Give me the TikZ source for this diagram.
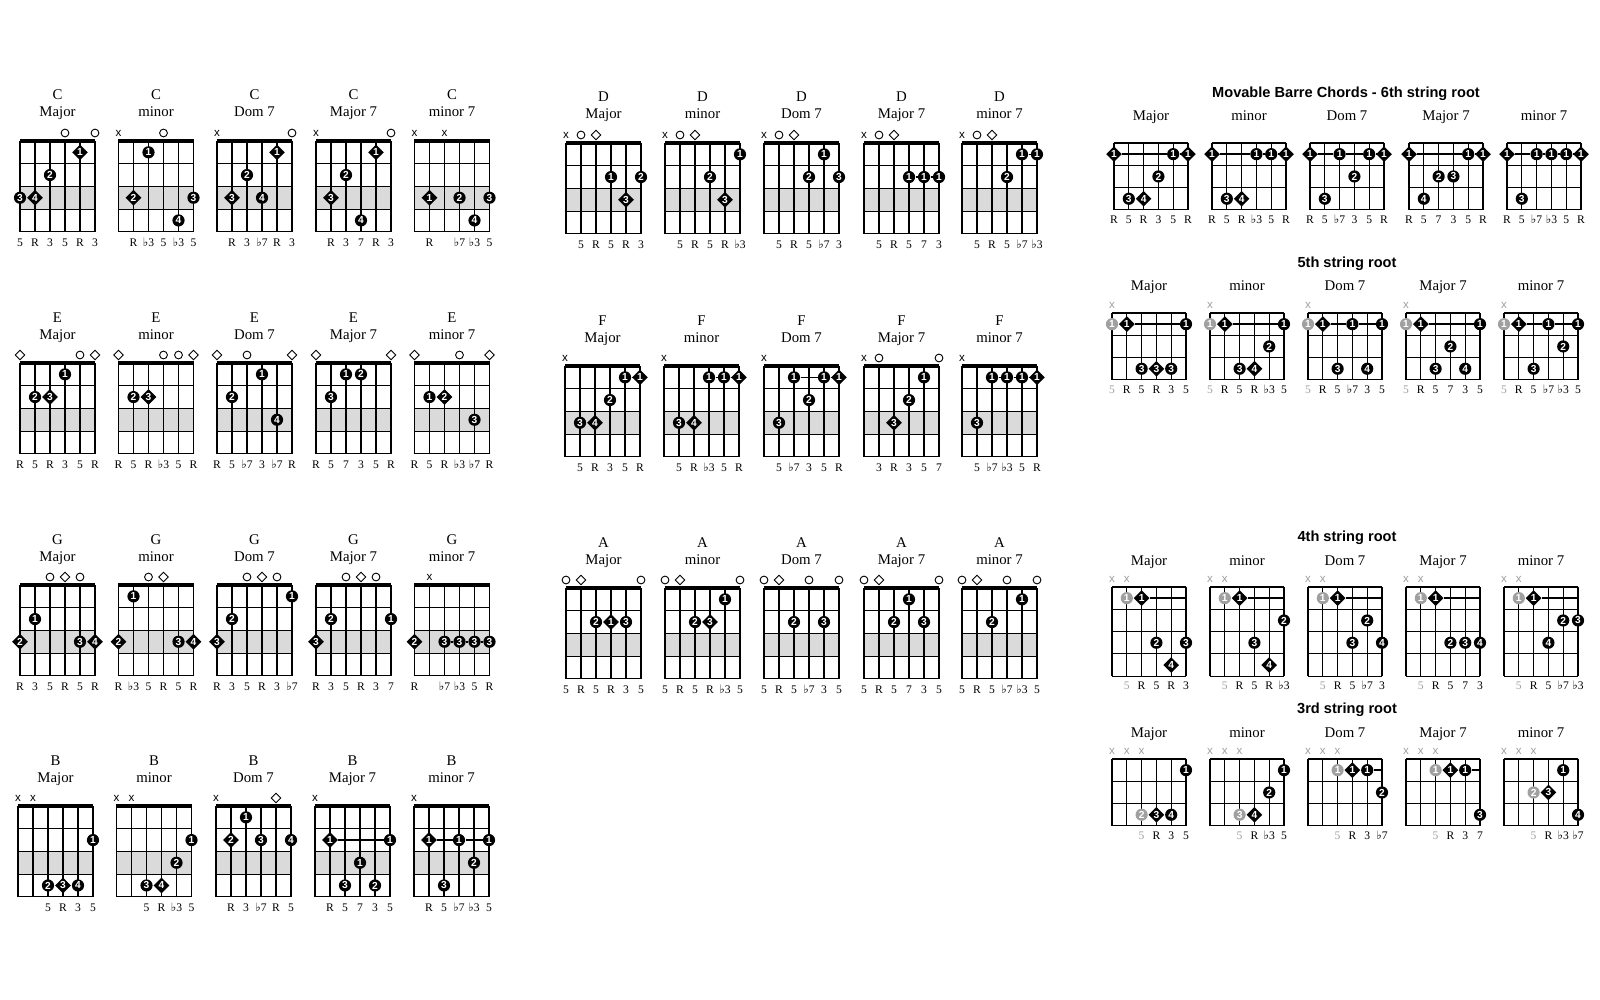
\documentclass[tikz,border=0pt]{standalone}
\usepackage{fontspec}
\setmainfont{Liberation Serif}
\newfontfamily\hsans{Liberation Sans}
\newfontfamily\symf{DejaVu Sans}
\usetikzlibrary{shapes.geometric}
\definecolor{shadegray}{RGB}{218,218,218}
\definecolor{markgray}{RGB}{160,160,160}
\tikzset{
  gridline/.style={line width=0.55pt, black},
  nutline/.style={line width=2pt, black},
  shadebox/.style={fill=shadegray},
  numfont/.style={font=\hsans\bfseries\fontsize{5.1}{5}\selectfont},
  fdotc/.style={circle, fill=black, minimum size=6.1pt, inner sep=0pt, text=white, numfont},
  fdotd/.style={diamond, fill=black, minimum size=8pt, inner sep=0pt, text=white, numfont},
  fdotg/.style={fdotc, fill=markgray},
  openc/.style={circle, draw, line width=0.45pt, minimum size=3.9pt, inner sep=0pt},
  opend/.style={diamond, draw, line width=0.45pt, minimum size=5pt, inner sep=0pt},
  mutex/.style={font=\hsans\fontsize{5.8}{6}\selectfont, inner sep=0pt},
  mutexg/.style={mutex, text=markgray},
  ttl/.style={font=\fontsize{7.4}{8}\selectfont, inner sep=0pt, anchor=base},
  lab/.style={font=\fontsize{5.8}{6}\selectfont, inner sep=0pt, anchor=base},
  labgray/.style={lab, text=markgray},
  barre/.style={line width=0.75pt},
  heading/.style={font=\hsans\bfseries\fontsize{7.3}{8}\selectfont, inner sep=0pt},
}
\newcommand\chfl{{\symf ♭}}
\newcommand\leftgrid{\def\sw{15}\def\rh{22.7}\def\nr{4}%
  \fill[shadebox] (0,{2*\rh}) rectangle ({5*\sw},{3*\rh});%
  \foreach \i in {0,...,5} {\draw[gridline] ({\i*\sw},0) -- ({\i*\sw},{\nr*\rh});}%
  \foreach \j in {1,...,4} {\draw[gridline] (0,{\j*\rh}) -- ({5*\sw},{\j*\rh});}%
  \draw[nutline] (-0.3,0) -- ({5*\sw+0.3},0);%
  \def\lby{\nr*\rh+14.5}}
\newcommand\rightgrid[1]{\def\sw{14.8}\def\rh{22.3}\def\nr{#1}%
  \foreach \i in {0,...,5} {\draw[gridline] ({\i*\sw},0) -- ({\i*\sw},{\nr*\rh});}%
  \foreach \j in {0,...,#1} {\draw[gridline] (0,{\j*\rh}) -- ({5*\sw},{\j*\rh});}%
  \def\lby{\nr*\rh+13.5}}
\newcommand\chtl[2]{\node[ttl] (\cid t1) at ({2.5*\sw},-41) {#1};\node[ttl] (\cid t2) at ({2.5*\sw},-24) {#2};}
\newcommand\chrtl[1]{\node[ttl] (\cid t2) at ({2.5*\sw},-22) {#1};}
\newcommand\chd[4]{\node[fdot#4] (\cid s#1r#2) at ({(6-#1)*\sw},{(#2-0.5)*\rh}) {#3};}
\newcommand\cho[1]{\node[openc] (\cid m#1) at ({(6-#1)*\sw},-8) {};}
\newcommand\chq[1]{\node[opend] (\cid m#1) at ({(6-#1)*\sw},-8) {};}
\newcommand\chx[1]{\node[mutex] (\cid m#1) at ({(6-#1)*\sw},-8) {x};}
\newcommand\chxg[1]{\node[mutexg] (\cid m#1) at ({(6-#1)*\sw},-8) {x};}
\newcommand\chlabs[1]{\foreach \s/\t in {#1} {\node[lab] (\cid l\s) at ({(6-\s)*\sw},{\lby}) {\t};}}
\newcommand\chglab[2]{\node[labgray] (\cid l#1) at ({(6-#1)*\sw},{\lby}) {#2};}
\newcommand\chend[1]{\coordinate (\cid e#1) at ({5*\sw},{(#1-0.5)*\rh});}
\begin{document}
\begin{tikzpicture}[x=0.5pt,y=-0.5pt]
\fill[white] (0,0) rectangle (1600,1000);
\useasboundingbox (0,0) rectangle (1600,1000);
% ===== C =====
\begin{scope}[shift={(20,141)}]\def\cid{c1}\leftgrid\chtl{C}{Major}
\cho{3}\cho{1}
\chd{2}{1}{1}{d}\chd{4}{2}{2}{c}\chd{6}{3}{3}{c}\chd{5}{3}{4}{d}
\chlabs{6/5,5/R,4/3,3/5,2/R,1/3}
\end{scope}
\begin{scope}[shift={(118.5,141)}]\def\cid{c2}\leftgrid\chtl{C}{minor}
\chx{6}\cho{3}
\chd{4}{1}{1}{c}\chd{5}{3}{2}{d}\chd{1}{3}{3}{c}\chd{2}{4}{4}{c}
\chlabs{5/R,4/\chfl3,3/5,2/\chfl3,1/5}
\end{scope}
\begin{scope}[shift={(217,141)}]\def\cid{c3}\leftgrid\chtl{C}{Dom 7}
\chx{6}\cho{1}
\chd{2}{1}{1}{d}\chd{4}{2}{2}{c}\chd{5}{3}{3}{d}\chd{3}{3}{4}{c}
\chlabs{5/R,4/3,3/\chfl7,2/R,1/3}
\end{scope}
\begin{scope}[shift={(316,141)}]\def\cid{c4}\leftgrid\chtl{C}{Major 7}
\chx{6}\cho{1}
\chd{2}{1}{1}{d}\chd{4}{2}{2}{c}\chd{5}{3}{3}{d}\chd{3}{4}{4}{c}
\chlabs{5/R,4/3,3/7,2/R,1/3}
\end{scope}
\begin{scope}[shift={(414.5,141)}]\def\cid{c5}\leftgrid\chtl{C}{minor 7}
\chx{6}\chx{4}
\chd{5}{3}{1}{d}\chd{3}{3}{2}{c}\chd{1}{3}{3}{c}\chd{2}{4}{4}{c}
\chlabs{5/R,3/\chfl7,2/\chfl3,1/5}
\end{scope}
% ===== E =====
\begin{scope}[shift={(20,363)}]\def\cid{e1}\leftgrid\chtl{E}{Major}
\chq{6}\cho{2}\chq{1}
\chd{3}{1}{1}{c}\chd{5}{2}{2}{c}\chd{4}{2}{3}{d}
\chlabs{6/R,5/5,4/R,3/3,2/5,1/R}
\end{scope}
\begin{scope}[shift={(118.5,363)}]\def\cid{e2}\leftgrid\chtl{E}{minor}
\chq{6}\cho{3}\cho{2}\chq{1}
\chd{5}{2}{2}{c}\chd{4}{2}{3}{d}
\chlabs{6/R,5/5,4/R,3/\chfl3,2/5,1/R}
\end{scope}
\begin{scope}[shift={(217,363)}]\def\cid{e3}\leftgrid\chtl{E}{Dom 7}
\chq{6}\cho{4}\chq{1}
\chd{3}{1}{1}{c}\chd{5}{2}{2}{c}\chd{2}{3}{4}{c}
\chlabs{6/R,5/5,4/\chfl7,3/3,2/\chfl7,1/R}
\end{scope}
\begin{scope}[shift={(316,363)}]\def\cid{e4}\leftgrid\chtl{E}{Major 7}
\chq{6}\chq{1}
\chd{4}{1}{1}{c}\chd{3}{1}{2}{c}\chd{5}{2}{3}{c}
\chlabs{6/R,5/5,4/7,3/3,2/5,1/R}
\end{scope}
\begin{scope}[shift={(414.5,363)}]\def\cid{e5}\leftgrid\chtl{E}{minor 7}
\chq{6}\cho{3}\chq{1}
\chd{5}{2}{1}{c}\chd{4}{2}{2}{d}\chd{2}{3}{3}{c}
\chlabs{6/R,5/5,4/R,3/\chfl3,2/\chfl7,1/R}
\end{scope}
% ===== G =====
\begin{scope}[shift={(20,585)}]\def\cid{g1}\leftgrid\chtl{G}{Major}
\cho{4}\chq{3}\cho{2}
\chd{5}{2}{1}{c}\chd{6}{3}{2}{d}\chd{2}{3}{3}{c}\chd{1}{3}{4}{d}
\chlabs{6/R,5/3,4/5,3/R,2/5,1/R}
\end{scope}
\begin{scope}[shift={(118.5,585)}]\def\cid{g2}\leftgrid\chtl{G}{minor}
\cho{4}\chq{3}
\chd{5}{1}{1}{c}\chd{6}{3}{2}{d}\chd{2}{3}{3}{c}\chd{1}{3}{4}{d}
\chlabs{6/R,5/\chfl3,4/5,3/R,2/5,1/R}
\end{scope}
\begin{scope}[shift={(217,585)}]\def\cid{g3}\leftgrid\chtl{G}{Dom 7}
\cho{4}\chq{3}\cho{2}
\chd{1}{1}{1}{c}\chd{5}{2}{2}{c}\chd{6}{3}{3}{d}
\chlabs{6/R,5/3,4/5,3/R,2/3,1/\chfl7}
\end{scope}
\begin{scope}[shift={(316,585)}]\def\cid{g4}\leftgrid\chtl{G}{Major 7}
\cho{4}\chq{3}\cho{2}
\chd{1}{2}{1}{c}\chd{5}{2}{2}{c}\chd{6}{3}{3}{d}
\chlabs{6/R,5/3,4/5,3/R,2/3,1/7}
\end{scope}
\begin{scope}[shift={(414.5,585)}]\def\cid{g5}\leftgrid\chtl{G}{minor 7}
\chx{5}
\chd{6}{3}{2}{d}\chd{4}{3}{3}{c}\chd{3}{3}{3}{c}\chd{2}{3}{3}{c}\chd{1}{3}{3}{c}
\draw[barre] (g5s4r3) -- (g5s3r3) -- (g5s2r3) -- (g5s1r3);
\chlabs{6/R,4/\chfl7,3/\chfl3,2/5,1/R}
\end{scope}
% ===== B =====
\begin{scope}[shift={(18,806)}]\def\cid{b1}\leftgrid\chtl{B}{Major}
\chx{6}\chx{5}
\chd{1}{2}{1}{c}\chd{4}{4}{2}{c}\chd{3}{4}{3}{d}\chd{2}{4}{4}{c}
\chlabs{4/5,3/R,2/3,1/5}
\end{scope}
\begin{scope}[shift={(116.5,806)}]\def\cid{b2}\leftgrid\chtl{B}{minor}
\chx{6}\chx{5}
\chd{1}{2}{1}{c}\chd{2}{3}{2}{c}\chd{4}{4}{3}{c}\chd{3}{4}{4}{d}
\chlabs{4/5,3/R,2/\chfl3,1/5}
\end{scope}
\begin{scope}[shift={(216,806)}]\def\cid{b3}\leftgrid\chtl{B}{Dom 7}
\chx{6}\chq{2}
\chd{4}{1}{1}{c}\chd{5}{2}{2}{d}\chd{3}{2}{3}{c}\chd{1}{2}{4}{c}
\chlabs{5/R,4/3,3/\chfl7,2/R,1/5}
\end{scope}
\begin{scope}[shift={(315,806)}]\def\cid{b4}\leftgrid\chtl{B}{Major 7}
\chx{6}
\chd{5}{2}{1}{d}\chd{1}{2}{1}{c}\chd{3}{3}{1}{c}\chd{4}{4}{3}{c}\chd{2}{4}{2}{c}
\draw[barre] (b4s5r2) -- (b4s1r2);
\chlabs{5/R,4/5,3/7,2/3,1/5}
\end{scope}
\begin{scope}[shift={(414,806)}]\def\cid{b5}\leftgrid\chtl{B}{minor 7}
\chx{6}
\chd{5}{2}{1}{d}\chd{3}{2}{1}{c}\chd{1}{2}{1}{c}\chd{2}{3}{2}{c}\chd{4}{4}{3}{c}
\draw[barre] (b5s5r2) -- (b5s3r2) -- (b5s1r2);
\chlabs{5/R,4/5,3/\chfl7,2/\chfl3,1/5}
\end{scope}
% ===== D =====
\begin{scope}[shift={(566,143)}]\def\cid{d1}\leftgrid\chtl{D}{Major}
\chx{6}\cho{5}\chq{4}
\chd{3}{2}{1}{c}\chd{1}{2}{2}{c}\chd{2}{3}{3}{d}
\chlabs{5/5,4/R,3/5,2/R,1/3}
\end{scope}
\begin{scope}[shift={(665,143)}]\def\cid{d2}\leftgrid\chtl{D}{minor}
\chx{6}\cho{5}\chq{4}
\chd{1}{1}{1}{c}\chd{3}{2}{2}{c}\chd{2}{3}{3}{d}
\chlabs{5/5,4/R,3/5,2/R,1/\chfl3}
\end{scope}
\begin{scope}[shift={(764,143)}]\def\cid{d3}\leftgrid\chtl{D}{Dom 7}
\chx{6}\cho{5}\chq{4}
\chd{2}{1}{1}{c}\chd{3}{2}{2}{c}\chd{1}{2}{3}{c}
\chlabs{5/5,4/R,3/5,2/\chfl7,1/3}
\end{scope}
\begin{scope}[shift={(864,143)}]\def\cid{d4}\leftgrid\chtl{D}{Major 7}
\chx{6}\cho{5}\chq{4}
\chd{3}{2}{1}{c}\chd{2}{2}{1}{c}\chd{1}{2}{1}{c}
\draw[barre] (d4s3r2) -- (d4s2r2) -- (d4s1r2);
\chlabs{5/5,4/R,3/5,2/7,1/3}
\end{scope}
\begin{scope}[shift={(962,143)}]\def\cid{d5}\leftgrid\chtl{D}{minor 7}
\chx{6}\cho{5}\chq{4}
\chd{2}{1}{1}{c}\chd{1}{1}{1}{c}\chd{3}{2}{2}{c}
\draw[barre] (d5s2r1) -- (d5s1r1);
\chlabs{5/5,4/R,3/5,2/\chfl7,1/\chfl3}
\end{scope}
% ===== F =====
\begin{scope}[shift={(565,366)}]\def\cid{f1}\leftgrid\chtl{F}{Major}
\chx{6}
\chd{2}{1}{1}{c}\chd{1}{1}{1}{d}\chd{3}{2}{2}{c}\chd{5}{3}{3}{c}\chd{4}{3}{4}{d}
\draw[barre] (f1s2r1) -- (f1s1r1);
\chlabs{5/5,4/R,3/3,2/5,1/R}
\end{scope}
\begin{scope}[shift={(664,366)}]\def\cid{f2}\leftgrid\chtl{F}{minor}
\chx{6}
\chd{3}{1}{1}{c}\chd{2}{1}{1}{c}\chd{1}{1}{1}{d}\chd{5}{3}{3}{c}\chd{4}{3}{4}{d}
\draw[barre] (f2s3r1) -- (f2s2r1) -- (f2s1r1);
\chlabs{5/5,4/R,3/\chfl3,2/5,1/R}
\end{scope}
\begin{scope}[shift={(764,366)}]\def\cid{f3}\leftgrid\chtl{F}{Dom 7}
\chx{6}
\chd{4}{1}{1}{c}\chd{2}{1}{1}{c}\chd{1}{1}{1}{d}\chd{3}{2}{2}{c}\chd{5}{3}{3}{c}
\draw[barre] (f3s4r1) -- (f3s2r1) -- (f3s1r1);
\chlabs{5/5,4/\chfl7,3/3,2/5,1/R}
\end{scope}
\begin{scope}[shift={(864,366)}]\def\cid{f4}\leftgrid\chtl{F}{Major 7}
\chx{6}\cho{5}\cho{1}
\chd{2}{1}{1}{c}\chd{3}{2}{2}{c}\chd{4}{3}{3}{d}
\chlabs{5/3,4/R,3/3,2/5,1/7}
\end{scope}
\begin{scope}[shift={(962,366)}]\def\cid{f5}\leftgrid\chtl{F}{minor 7}
\chx{6}
\chd{4}{1}{1}{c}\chd{3}{1}{1}{c}\chd{2}{1}{1}{c}\chd{1}{1}{1}{d}\chd{5}{3}{3}{c}
\draw[barre] (f5s4r1) -- (f5s3r1) -- (f5s2r1) -- (f5s1r1);
\chlabs{5/5,4/\chfl7,3/\chfl3,2/5,1/R}
\end{scope}
% ===== A =====
\begin{scope}[shift={(566,588)}]\def\cid{a1}\leftgrid\chtl{A}{Major}
\cho{6}\chq{5}\cho{1}
\chd{4}{2}{2}{c}\chd{3}{2}{1}{d}\chd{2}{2}{3}{c}
\chlabs{6/5,5/R,4/5,3/R,2/3,1/5}
\end{scope}
\begin{scope}[shift={(665,588)}]\def\cid{a2}\leftgrid\chtl{A}{minor}
\cho{6}\chq{5}\cho{1}
\chd{2}{1}{1}{c}\chd{4}{2}{2}{c}\chd{3}{2}{3}{d}
\chlabs{6/5,5/R,4/5,3/R,2/\chfl3,1/5}
\end{scope}
\begin{scope}[shift={(764,588)}]\def\cid{a3}\leftgrid\chtl{A}{Dom 7}
\cho{6}\chq{5}\cho{3}\cho{1}
\chd{4}{2}{2}{c}\chd{2}{2}{3}{c}
\chlabs{6/5,5/R,4/5,3/\chfl7,2/3,1/5}
\end{scope}
\begin{scope}[shift={(864,588)}]\def\cid{a4}\leftgrid\chtl{A}{Major 7}
\cho{6}\chq{5}\cho{1}
\chd{3}{1}{1}{c}\chd{4}{2}{2}{c}\chd{2}{2}{3}{c}
\chlabs{6/5,5/R,4/5,3/7,2/3,1/5}
\end{scope}
\begin{scope}[shift={(962,588)}]\def\cid{a5}\leftgrid\chtl{A}{minor 7}
\cho{6}\chq{5}\cho{3}\cho{1}
\chd{2}{1}{1}{c}\chd{4}{2}{2}{c}
\chlabs{6/5,5/R,4/5,3/\chfl7,2/\chfl3,1/5}
\end{scope}
% ===== Right headings =====
\node[heading] (h6) at (1346,94) {Movable Barre Chords - 6th string root};
\node[heading] (h5) at (1347,264) {5th string root};
\node[heading] (h4) at (1347,538) {4th string root};
\node[heading] (h3) at (1347,710) {3rd string root};
% ===== 6th string root =====
\begin{scope}[shift={(1114,143)}]\def\cid{r1}\rightgrid{3}\chrtl{Major}
\chd{6}{1}{1}{d}\chd{2}{1}{1}{c}\chd{1}{1}{1}{d}\chd{3}{2}{2}{c}\chd{5}{3}{3}{c}\chd{4}{3}{4}{d}
\draw[barre] (r1s6r1) -- (r1s2r1) -- (r1s1r1);
\chlabs{6/R,5/5,4/R,3/3,2/5,1/R}
\end{scope}
\begin{scope}[shift={(1212,143)}]\def\cid{r2}\rightgrid{3}\chrtl{minor}
\chd{6}{1}{1}{d}\chd{3}{1}{1}{c}\chd{2}{1}{1}{c}\chd{1}{1}{1}{d}\chd{5}{3}{3}{c}\chd{4}{3}{4}{d}
\draw[barre] (r2s6r1) -- (r2s3r1) -- (r2s2r1) -- (r2s1r1);
\chlabs{6/R,5/5,4/R,3/\chfl3,2/5,1/R}
\end{scope}
\begin{scope}[shift={(1310,143)}]\def\cid{r3}\rightgrid{3}\chrtl{Dom 7}
\chd{6}{1}{1}{d}\chd{4}{1}{1}{c}\chd{2}{1}{1}{c}\chd{1}{1}{1}{d}\chd{3}{2}{2}{c}\chd{5}{3}{3}{c}
\draw[barre] (r3s6r1) -- (r3s4r1) -- (r3s2r1) -- (r3s1r1);
\chlabs{6/R,5/5,4/\chfl7,3/3,2/5,1/R}
\end{scope}
\begin{scope}[shift={(1409,143)}]\def\cid{r4}\rightgrid{3}\chrtl{Major 7}
\chd{6}{1}{1}{d}\chd{2}{1}{1}{c}\chd{1}{1}{1}{d}\chd{4}{2}{2}{c}\chd{3}{2}{3}{c}\chd{5}{3}{4}{c}
\draw[barre] (r4s6r1) -- (r4s2r1) -- (r4s1r1);
\chlabs{6/R,5/5,4/7,3/3,2/5,1/R}
\end{scope}
\begin{scope}[shift={(1507,143)}]\def\cid{r5}\rightgrid{3}\chrtl{minor 7}
\chd{6}{1}{1}{d}\chd{4}{1}{1}{c}\chd{3}{1}{1}{c}\chd{2}{1}{1}{c}\chd{1}{1}{1}{d}\chd{5}{3}{3}{c}
\draw[barre] (r5s6r1) -- (r5s4r1) -- (r5s3r1) -- (r5s2r1) -- (r5s1r1);
\chlabs{6/R,5/5,4/\chfl7,3/\chfl3,2/5,1/R}
\end{scope}
% ===== 5th string root =====
\begin{scope}[shift={(1112,313)}]\def\cid{s1}\rightgrid{3}\chrtl{Major}
\chxg{6}
\chd{6}{1}{1}{g}\chd{5}{1}{1}{d}\chd{1}{1}{1}{c}\chd{4}{3}{3}{c}\chd{3}{3}{3}{d}\chd{2}{3}{3}{c}
\draw[barre] (s1s5r1) -- (s1s1r1);
\chglab{6}{5}\chlabs{5/R,4/5,3/R,2/3,1/5}
\end{scope}
\begin{scope}[shift={(1210,313)}]\def\cid{s2}\rightgrid{3}\chrtl{minor}
\chxg{6}
\chd{6}{1}{1}{g}\chd{5}{1}{1}{d}\chd{1}{1}{1}{c}\chd{2}{2}{2}{c}\chd{4}{3}{3}{c}\chd{3}{3}{4}{d}
\draw[barre] (s2s5r1) -- (s2s1r1);
\chglab{6}{5}\chlabs{5/R,4/5,3/R,2/\chfl3,1/5}
\end{scope}
\begin{scope}[shift={(1308,313)}]\def\cid{s3}\rightgrid{3}\chrtl{Dom 7}
\chxg{6}
\chd{6}{1}{1}{g}\chd{5}{1}{1}{d}\chd{3}{1}{1}{c}\chd{1}{1}{1}{c}\chd{4}{3}{3}{c}\chd{2}{3}{4}{c}
\draw[barre] (s3s5r1) -- (s3s3r1) -- (s3s1r1);
\chglab{6}{5}\chlabs{5/R,4/5,3/\chfl7,2/3,1/5}
\end{scope}
\begin{scope}[shift={(1406,313)}]\def\cid{s4}\rightgrid{3}\chrtl{Major 7}
\chxg{6}
\chd{6}{1}{1}{g}\chd{5}{1}{1}{d}\chd{1}{1}{1}{c}\chd{3}{2}{2}{c}\chd{4}{3}{3}{c}\chd{2}{3}{4}{c}
\draw[barre] (s4s5r1) -- (s4s1r1);
\chglab{6}{5}\chlabs{5/R,4/5,3/7,2/3,1/5}
\end{scope}
\begin{scope}[shift={(1504,313)}]\def\cid{s5}\rightgrid{3}\chrtl{minor 7}
\chxg{6}
\chd{6}{1}{1}{g}\chd{5}{1}{1}{d}\chd{3}{1}{1}{c}\chd{1}{1}{1}{c}\chd{2}{2}{2}{c}\chd{4}{3}{3}{c}
\draw[barre] (s5s5r1) -- (s5s3r1) -- (s5s1r1);
\chglab{6}{5}\chlabs{5/R,4/5,3/\chfl7,2/\chfl3,1/5}
\end{scope}
% ===== 4th string root =====
\begin{scope}[shift={(1112,587)}]\def\cid{t1}\rightgrid{4}\chrtl{Major}
\chxg{6}\chxg{5}
\chd{5}{1}{1}{g}\chd{4}{1}{1}{d}\chend{1}\chd{3}{3}{2}{c}\chd{1}{3}{3}{c}\chd{2}{4}{4}{d}
\draw[barre] (t1s4r1) -- (t1e1);
\chglab{5}{5}\chlabs{4/R,3/5,2/R,1/3}
\end{scope}
\begin{scope}[shift={(1210,587)}]\def\cid{t2}\rightgrid{4}\chrtl{minor}
\chxg{6}\chxg{5}
\chd{5}{1}{1}{g}\chd{4}{1}{1}{d}\chend{1}\chd{1}{2}{2}{c}\chd{3}{3}{3}{c}\chd{2}{4}{4}{d}
\draw[barre] (t2s4r1) -- (t2e1);
\chglab{5}{5}\chlabs{4/R,3/5,2/R,1/\chfl3}
\end{scope}
\begin{scope}[shift={(1308,587)}]\def\cid{t3}\rightgrid{4}\chrtl{Dom 7}
\chxg{6}\chxg{5}
\chd{5}{1}{1}{g}\chd{4}{1}{1}{d}\chend{1}\chd{2}{2}{2}{c}\chd{3}{3}{3}{c}\chd{1}{3}{4}{c}
\draw[barre] (t3s4r1) -- (t3e1);
\chglab{5}{5}\chlabs{4/R,3/5,2/\chfl7,1/3}
\end{scope}
\begin{scope}[shift={(1406,587)}]\def\cid{t4}\rightgrid{4}\chrtl{Major 7}
\chxg{6}\chxg{5}
\chd{5}{1}{1}{g}\chd{4}{1}{1}{d}\chend{1}\chd{3}{3}{2}{c}\chd{2}{3}{3}{c}\chd{1}{3}{4}{c}
\draw[barre] (t4s4r1) -- (t4e1);
\chglab{5}{5}\chlabs{4/R,3/5,2/7,1/3}
\end{scope}
\begin{scope}[shift={(1504,587)}]\def\cid{t5}\rightgrid{4}\chrtl{minor 7}
\chxg{6}\chxg{5}
\chd{5}{1}{1}{g}\chd{4}{1}{1}{d}\chend{1}\chd{2}{2}{2}{c}\chd{1}{2}{3}{c}\chd{3}{3}{4}{c}
\draw[barre] (t5s4r1) -- (t5e1);
\chglab{5}{5}\chlabs{4/R,3/5,2/\chfl7,1/\chfl3}
\end{scope}
% ===== 3rd string root =====
\begin{scope}[shift={(1112,759)}]\def\cid{u1}\rightgrid{3}\chrtl{Major}
\chxg{6}\chxg{5}\chxg{4}
\chd{1}{1}{1}{c}\chd{4}{3}{2}{g}\chd{3}{3}{3}{d}\chd{2}{3}{4}{c}
\chglab{4}{5}\chlabs{3/R,2/3,1/5}
\end{scope}
\begin{scope}[shift={(1210,759)}]\def\cid{u2}\rightgrid{3}\chrtl{minor}
\chxg{6}\chxg{5}\chxg{4}
\chd{1}{1}{1}{c}\chd{2}{2}{2}{c}\chd{4}{3}{3}{g}\chd{3}{3}{4}{d}
\chglab{4}{5}\chlabs{3/R,2/\chfl3,1/5}
\end{scope}
\begin{scope}[shift={(1308,759)}]\def\cid{u3}\rightgrid{3}\chrtl{Dom 7}
\chxg{6}\chxg{5}\chxg{4}
\chd{4}{1}{1}{g}\chd{3}{1}{1}{d}\chd{2}{1}{1}{c}\chend{1}\chd{1}{2}{2}{c}
\draw[barre] (u3s2r1) -- (u3e1);
\chglab{4}{5}\chlabs{3/R,2/3,1/\chfl7}
\end{scope}
\begin{scope}[shift={(1406,759)}]\def\cid{u4}\rightgrid{3}\chrtl{Major 7}
\chxg{6}\chxg{5}\chxg{4}
\chd{4}{1}{1}{g}\chd{3}{1}{1}{d}\chd{2}{1}{1}{c}\chend{1}\chd{1}{3}{3}{c}
\draw[barre] (u4s2r1) -- (u4e1);
\chglab{4}{5}\chlabs{3/R,2/3,1/7}
\end{scope}
\begin{scope}[shift={(1504,759)}]\def\cid{u5}\rightgrid{3}\chrtl{minor 7}
\chxg{6}\chxg{5}\chxg{4}
\chd{2}{1}{1}{c}\chd{4}{2}{2}{g}\chd{3}{2}{3}{d}\chd{1}{3}{4}{c}
\chglab{4}{5}\chlabs{3/R,2/\chfl3,1/\chfl7}
\end{scope}
\end{tikzpicture}
\end{document}
